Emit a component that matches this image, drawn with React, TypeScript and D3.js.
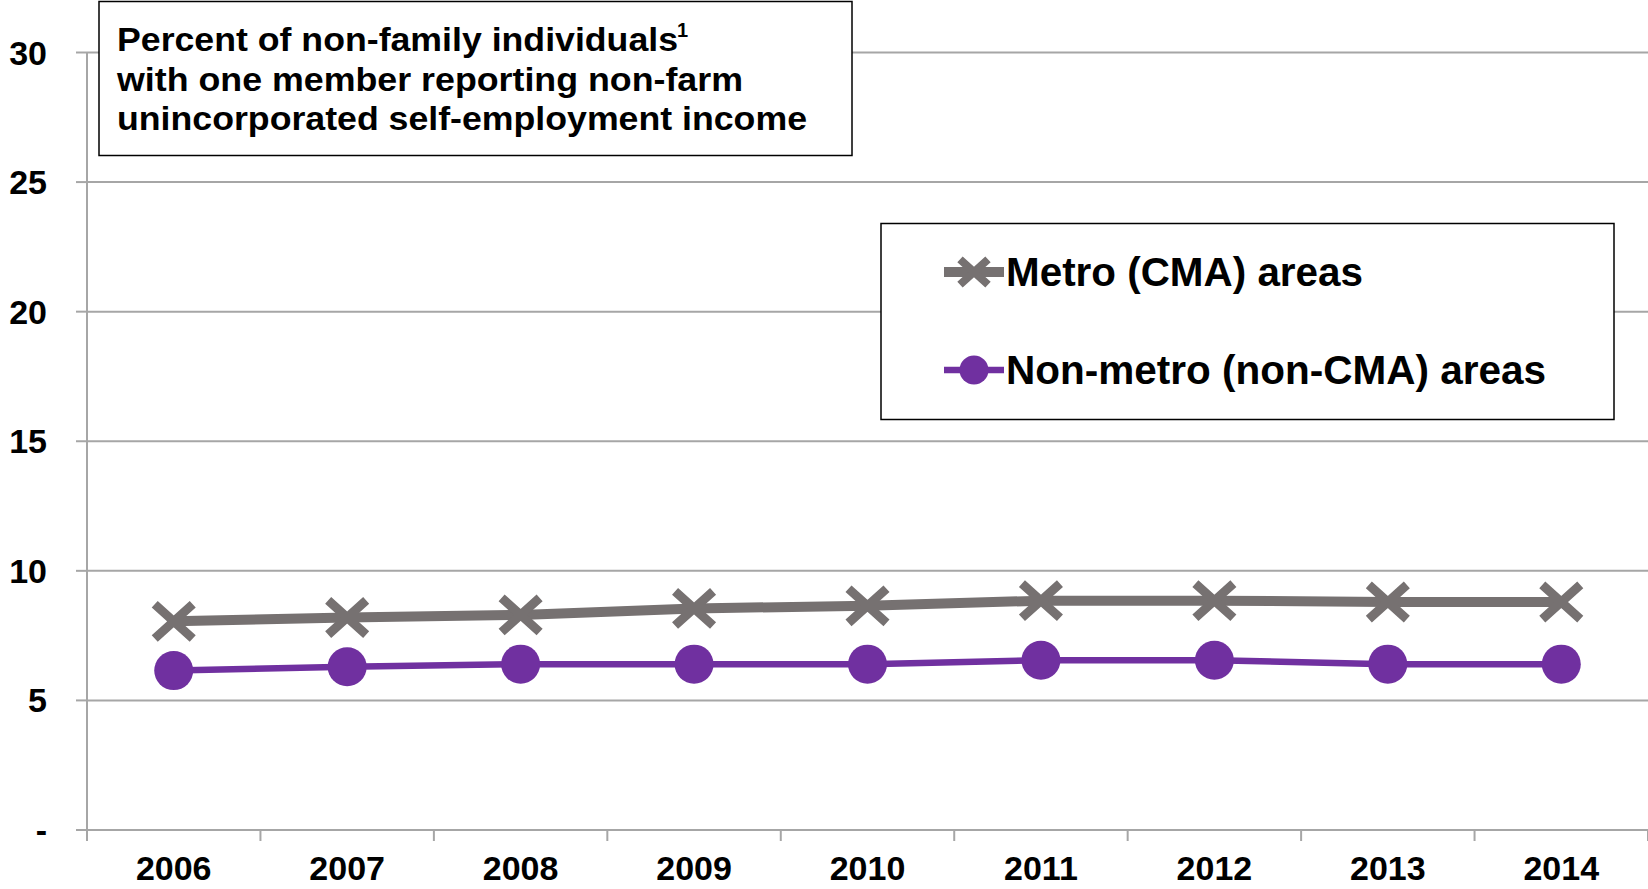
import * as d3 from "d3";

const years = ["2006", "2007", "2008", "2009", "2010", "2011", "2012", "2013", "2014"];
const metroValues = [8.05, 8.2, 8.3, 8.55, 8.65, 8.85, 8.85, 8.8, 8.8];
const nonMetroValues = [6.15, 6.3, 6.4, 6.4, 6.4, 6.55, 6.55, 6.4, 6.4];
const yTicks = [0, 5, 10, 15, 20, 25, 30];
const yTickLabels = ["-", "5", "10", "15", "20", "25", "30"];
const titleLines = [
  "Percent of non-family individuals",
  "with one member reporting non-farm",
  "unincorporated self-employment income",
];
const legendLabels = ["Metro (CMA) areas", "Non-metro (non-CMA) areas"];

const W = 1648;
const H = 889;
const FONT = "'Liberation Sans', Arial, sans-serif";
const GRAY = "#767171";
const PURPLE = "#7030A0";
const GRID = "#a6a6a6";

function XMark({ cx, cy, s, w }: { cx: number; cy: number; s: number; w: number }) {
  return (
    <path
      d={`M${cx - s},${cy - s * 0.9}L${cx + s},${cy + s * 0.9}M${cx - s},${cy + s * 0.9}L${cx + s},${cy - s * 0.9}`}
      stroke={GRAY}
      strokeWidth={w}
      fill="none"
    />
  );
}

export default function App() {
  const left = 87;
  const right = W;
  const x = d3.scaleBand().domain(years).range([left, right]);
  const y = d3.scaleLinear().domain([0, 30]).range([830, 52.5]);
  const cx = (d: string) => (x(d) || 0) + x.bandwidth() / 2;

  const line = d3
    .line<number>()
    .x((_d, i) => cx(years[i]))
    .y((d) => y(d));

  const bandEdges = d3.range(years.length + 1).map((i) => left + i * x.bandwidth());

  return (
    <svg
      width={W}
      height={H}
      style={{ position: "absolute", left: 0, top: 0, background: "#fff" }}
      fontFamily={FONT}
      fontWeight="bold"
    >
      {/* gridlines */}
      {yTicks.map((t) => (
        <g key={t}>
          <line x1={left} x2={right} y1={y(t)} y2={y(t)} stroke={GRID} strokeWidth={2} />
          <line x1={left - 11} x2={left} y1={y(t)} y2={y(t)} stroke={GRID} strokeWidth={2} />
        </g>
      ))}
      {/* axes */}
      <line x1={left} x2={left} y1={y(30)} y2={y(0)} stroke={GRID} strokeWidth={2} />
      {bandEdges.map((bx, i) => (
        <line key={i} x1={bx} x2={bx} y1={y(0)} y2={y(0) + 11} stroke={GRID} strokeWidth={2} />
      ))}

      {/* y labels */}
      {yTicks.map((t, i) => (
        <text key={t} x={47} y={y(t) + 12} textAnchor="end" fontSize={34} fill="#000">
          {yTickLabels[i]}
        </text>
      ))}
      {/* x labels */}
      {years.map((yr) => (
        <text key={yr} x={cx(yr)} y={880} textAnchor="middle" fontSize={34} fill="#000">
          {yr}
        </text>
      ))}

      {/* series */}
      <path d={line(metroValues) || ""} fill="none" stroke={GRAY} strokeWidth={10} />
      {metroValues.map((v, i) => (
        <XMark key={i} cx={cx(years[i])} cy={y(v)} s={19} w={9} />
      ))}
      <path d={line(nonMetroValues) || ""} fill="none" stroke={PURPLE} strokeWidth={6.5} />
      {nonMetroValues.map((v, i) => (
        <circle key={i} cx={cx(years[i])} cy={y(v)} r={19.5} fill={PURPLE} />
      ))}

      {/* title box */}
      <rect x={99} y={1.5} width={753} height={154} fill="#fff" stroke="#000" strokeWidth={1.5} />
      <text x={117} y={51} fontSize={34} textLength={561} lengthAdjust="spacingAndGlyphs">
        {titleLines[0]}
      </text>
      <text x={677} y={37} fontSize={20}>1</text>
      <text x={117} y={91} fontSize={34} textLength={626} lengthAdjust="spacingAndGlyphs">
        {titleLines[1]}
      </text>
      <text x={117} y={130} fontSize={34} textLength={690} lengthAdjust="spacingAndGlyphs">
        {titleLines[2]}
      </text>

      {/* legend */}
      <rect x={881} y={223.5} width={733} height={196} fill="#fff" stroke="#000" strokeWidth={1.5} />
      <line x1={944} x2={1004} y1={272} y2={272} stroke={GRAY} strokeWidth={10} />
      <XMark cx={974} cy={272} s={14} w={8} />
      <text x={1006} y={286} fontSize={40} textLength={357} lengthAdjust="spacingAndGlyphs">
        {legendLabels[0]}
      </text>
      <line x1={944} x2={1004} y1={370} y2={370} stroke={PURPLE} strokeWidth={6.5} />
      <circle cx={974} cy={370} r={14.5} fill={PURPLE} />
      <text x={1006} y={384} fontSize={40} textLength={540} lengthAdjust="spacingAndGlyphs">
        {legendLabels[1]}
      </text>
    </svg>
  );
}
